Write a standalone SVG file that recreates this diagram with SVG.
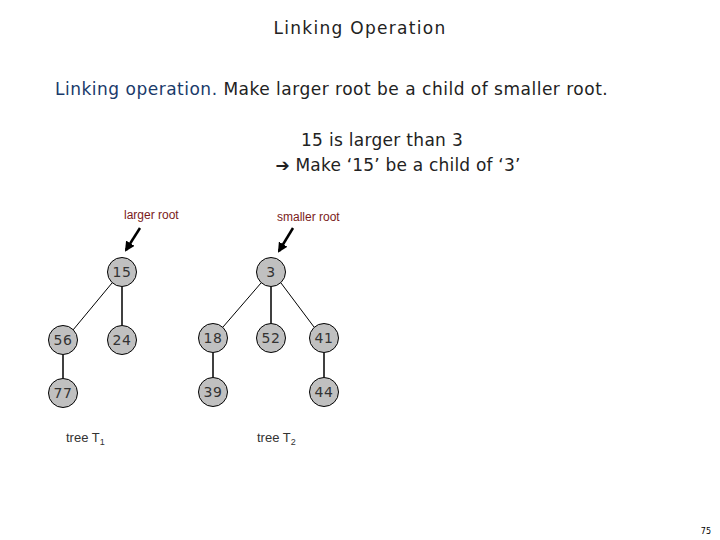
<svg xmlns="http://www.w3.org/2000/svg" width="720" height="540" viewBox="0 0 720 540">
<style>
.n circle{fill:#c0c0c0;stroke:#000;stroke-width:1}
.n text{font-family:"DejaVu Sans",sans-serif;font-size:14px;fill:#333;text-anchor:middle;letter-spacing:0.5px}
.lbl{font-family:"Liberation Sans Narrow","Liberation Sans",sans-serif;font-size:12px;fill:#7a1a1a}
.t{font-family:"Liberation Sans",sans-serif;font-size:13px;fill:#333}
.h{font-family:"DejaVu Sans",sans-serif;font-size:17px}
</style>
<defs><marker id="a" viewBox="0 0 10 10" refX="8" refY="5" markerWidth="4" markerHeight="4" orient="auto"><path d="M0,0L10,5L0,10z" fill="#000"/></marker></defs>
<rect width="720" height="540" fill="#fff"/>
<text x="360" y="34" class="h" text-anchor="middle" font-size="19" letter-spacing="1.3" fill="#222">Linking Operation</text>
<text x="55" y="95" class="h" letter-spacing="0.5" fill="#222"><tspan fill="#1a3a6a">Linking operation.</tspan>  Make larger root be a child of smaller root.</text>
<text x="382" y="146" class="h" text-anchor="middle" letter-spacing="0.3" fill="#222">15 is larger than 3</text>
<text x="398" y="171" class="h" text-anchor="middle" letter-spacing="0.2" fill="#222">➔ Make ‘15’ be a child of ‘3’</text>
<text x="124" y="219" class="lbl">larger root</text>
<text x="277" y="221" class="lbl">smaller root</text>
<g id="connectors" stroke="#000" stroke-width="1">
<line x1="112" y1="283" x2="73" y2="330"/>
<line x1="122" y1="287" x2="122" y2="325" stroke-width="1.5"/>
<line x1="63" y1="355" x2="63" y2="378" stroke-width="1.5"/>
<line x1="261" y1="283" x2="223" y2="327"/>
<line x1="271" y1="287" x2="271" y2="323" stroke-width="1.5"/>
<line x1="281" y1="283" x2="314" y2="327"/>
<line x1="213" y1="353" x2="213" y2="377" stroke-width="1.5"/>
<line x1="324" y1="353" x2="324" y2="377" stroke-width="1.5"/>
<line x1="140" y1="228" x2="126" y2="250" stroke-width="2.5" marker-end="url(#a)"/>
<line x1="293" y1="228" x2="279" y2="251" stroke-width="2.5" marker-end="url(#a)"/>
</g>
<g id="n15" class="n"><circle cx="122" cy="272" r="14.5"/><text x="122" y="277">15</text></g>
<g id="n56" class="n"><circle cx="63" cy="340" r="14.5"/><text x="63" y="345">56</text></g>
<g id="n24" class="n"><circle cx="122" cy="340" r="14.5"/><text x="122" y="345">24</text></g>
<g id="n77" class="n"><circle cx="63" cy="393" r="14.5"/><text x="63" y="398">77</text></g>
<g id="n3" class="n"><circle cx="271" cy="272" r="14.5"/><text x="271" y="277">3</text></g>
<g id="n18" class="n"><circle cx="213" cy="338" r="14.5"/><text x="213" y="343">18</text></g>
<g id="n52" class="n"><circle cx="271" cy="338" r="14.5"/><text x="271" y="343">52</text></g>
<g id="n41" class="n"><circle cx="324" cy="338" r="14.5"/><text x="324" y="343">41</text></g>
<g id="n39" class="n"><circle cx="213" cy="392" r="14.5"/><text x="213" y="397">39</text></g>
<g id="n44" class="n"><circle cx="324" cy="392" r="14.5"/><text x="324" y="397">44</text></g>
<text x="66" y="442" class="t">tree T<tspan font-size="9" dy="3">1</tspan></text>
<text x="257" y="442" class="t">tree T<tspan font-size="9" dy="3">2</tspan></text>
<text x="711" y="534" font-family="DejaVu Sans,sans-serif" font-size="8" text-anchor="end">75</text>
</svg>
